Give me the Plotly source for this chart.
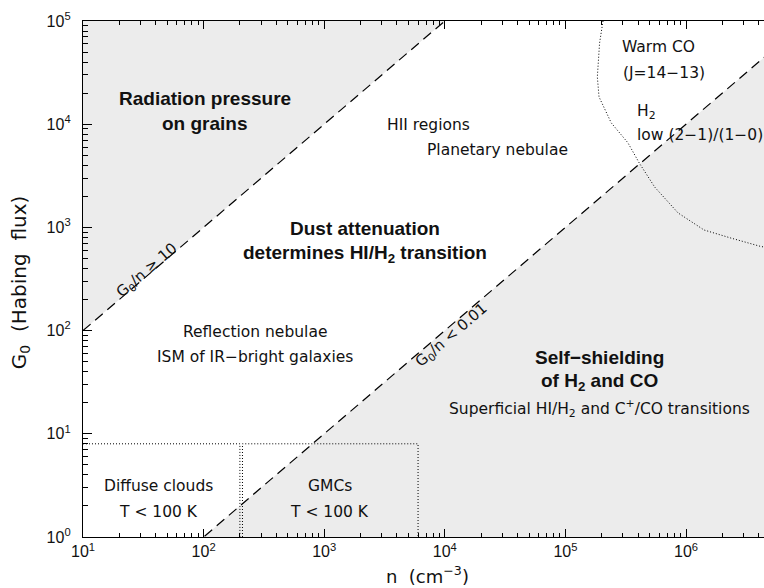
import plotly.graph_objects as go

# ---------------- data ----------------
N_RANGE = [10, 1e7]          # density limits used for the regime lines (cm^-3)
G_RANGE = [1, 1e5]           # G0 limits (Habing)
RATIO_HIGH = 10              # G0/n >= 10  -> radiation pressure on grains
RATIO_LOW = 0.01             # G0/n < 0.01 -> self-shielding

diffuse_n = [10, 200, 200]
diffuse_g = [8, 8, 1]
gmc_n = [210, 210, 6000, 6000]
gmc_g = [1, 8, 8, 1]

warmco_n = [2.05e5, 1.92e5, 1.84e5, 1.9e5, 2.4e5, 3.3e5, 4.1e5, 5.5e5, 8.6e5, 1.41e6, 2.36e6, 4.1e6, 6e6]
warmco_g = [1e5, 6.1e4, 2.87e4, 1.84e4, 1.03e4, 6.6e3, 4.2e3, 2.46e3, 1.38e3, 944, 788, 657, 600]

major_vals_x = [10, 1e2, 1e3, 1e4, 1e5, 1e6]
major_text_x = ["10<sup>1</sup>", "10<sup>2</sup>", "10<sup>3</sup>", "10<sup>4</sup>", "10<sup>5</sup>", "10<sup>6</sup>"]
major_vals_y = [1, 10, 1e2, 1e3, 1e4, 1e5]
major_text_y = ["10<sup>0</sup>", "10<sup>1</sup>", "10<sup>2</sup>", "10<sup>3</sup>", "10<sup>4</sup>", "10<sup>5</sup>"]

FILL = "#ececec"
FONT = "DejaVu Sans"
BOLD_FONT = "Liberation Sans"
TICK_FONT = "Liberation Sans"

fig = go.Figure()

# shaded regimes
fig.add_trace(go.Scatter(
    x=[N_RANGE[0], G_RANGE[1] / RATIO_HIGH, N_RANGE[0]],
    y=[RATIO_HIGH * N_RANGE[0], G_RANGE[1], G_RANGE[1]],
    fill="toself", fillcolor=FILL, line=dict(width=0), mode="lines", hoverinfo="skip"))
fig.add_trace(go.Scatter(
    x=[G_RANGE[0] / RATIO_LOW, N_RANGE[1], N_RANGE[1]],
    y=[G_RANGE[0], RATIO_LOW * N_RANGE[1], G_RANGE[0]],
    fill="toself", fillcolor=FILL, line=dict(width=0), mode="lines", hoverinfo="skip"))

# boundary lines
for r in (RATIO_HIGH, RATIO_LOW):
    fig.add_trace(go.Scatter(
        x=N_RANGE, y=[r * N_RANGE[0], r * N_RANGE[1]], mode="lines",
        line=dict(color="black", width=1.2, dash="10px,6px"), hoverinfo="skip"))

# dotted boxes and curve
dot = dict(color="black", width=1, dash="1px,2px")
fig.add_trace(go.Scatter(x=diffuse_n, y=diffuse_g, mode="lines", line=dot, hoverinfo="skip"))
fig.add_trace(go.Scatter(x=gmc_n, y=gmc_g, mode="lines", line=dot, hoverinfo="skip"))
fig.add_trace(go.Scatter(x=warmco_n, y=warmco_g, mode="lines", line=dot, hoverinfo="skip"))

# ---------------- annotations ----------------
def lab(xl, yl, text, size=15.5, bold=False, xanchor="center", angle=0):
    t = f"<b>{text}</b>" if bold else text
    fam = BOLD_FONT if bold else FONT
    fig.add_annotation(x=xl, y=yl, text=t, showarrow=False, xanchor=xanchor, yanchor="middle",
                       textangle=angle, font=dict(family=fam, size=size, color="#111"))

B = 19
lab(2.012, 4.245, "Radiation pressure", B, True)
lab(2.012, 4.002, "on grains", B, True)
lab(3.861, 3.992, "HII regions")
lab(4.433, 3.750, "Planetary nebulae")
lab(3.338, 2.994, "Dust attenuation", B, True)
lab(3.338, 2.742, "determines HI/H<sub>2</sub> transition", B, True)
lab(2.426, 1.986, "Reflection nebulae")
lab(2.426, 1.744, "ISM of IR−bright galaxies")
lab(5.279, 1.744, "Self−shielding", B, True)
lab(5.279, 1.500, "of H<sub>2</sub> and CO", B, True)
lab(5.279, 1.250, "Superficial HI/H<sub>2</sub> and C<sup>+</sup>/CO transitions")
lab(1.630, 0.494, "Diffuse clouds")
lab(1.630, 0.242, "T < 100 K")
lab(3.048, 0.494, "GMCs")
lab(3.048, 0.242, "T < 100 K")
lab(5.453, 4.748, "Warm CO", xanchor="left")
lab(5.461, 4.496, "(J=14−13)", xanchor="left")
lab(5.577, 4.120, "H<sub>2</sub>", xanchor="left")
lab(5.577, 3.895, "low (2−1)/(1−0)", xanchor="left")
lab(1.53, 2.58, "G<sub>0</sub>/n ≥ 10", 15, angle=-40.6)
lab(4.051, 1.957, "G<sub>0</sub>/n < 0.01", 15, angle=-40.6)

# axis titles
fig.add_annotation(xref="paper", yref="paper", x=0.5066, y=-0.0736, text="n  (cm<sup>−3</sup>)",
                   showarrow=False, xanchor="center", yanchor="middle",
                   font=dict(family=FONT, size=18, color="#111"))
fig.add_annotation(xref="paper", yref="paper", x=-0.0925, y=0.492, text="G<sub>0</sub>  (Habing  flux)",
                   showarrow=False, xanchor="center", yanchor="middle", textangle=-90,
                   font=dict(family=FONT, size=20, color="#111"))

fig.update_xaxes(type="log", range=[1, 1 + 681 / 120.6], showgrid=False, zeroline=False,
                 showline=True, linecolor="black", linewidth=1.3, mirror="ticks",
                 ticks="inside", ticklen=8, tickwidth=1.3, tickcolor="black",
                 tickmode="array", tickvals=major_vals_x, ticktext=major_text_x,
                 tickfont=dict(family=TICK_FONT, size=16, color="#111"),
                 minor=dict(dtick="D1", ticks="inside", ticklen=4,
                            tickwidth=1, tickcolor="black", showgrid=False))
fig.update_yaxes(type="log", range=[0, 5], showgrid=False, zeroline=False,
                 showline=True, linecolor="black", linewidth=1.3, mirror=False,
                 ticks="inside", ticklen=9, tickwidth=1.3, tickcolor="black",
                 tickmode="array", tickvals=major_vals_y, ticktext=major_text_y,
                 tickfont=dict(family=TICK_FONT, size=16, color="#111"),
                 ticklabelstandoff=8,
                 minor=dict(dtick="D1", ticks="inside", ticklen=5,
                            tickwidth=1, tickcolor="black", showgrid=False))

fig.update_layout(width=764, height=588, margin=dict(l=83, r=0, t=21, b=51),
                  plot_bgcolor="white", paper_bgcolor="white", showlegend=False,
                  font=dict(family=FONT))

fig.write_html("out.html", config={"displayModeBar": False},
               post_script="document.body.style.margin='0px';document.body.style.overflow='hidden';")
